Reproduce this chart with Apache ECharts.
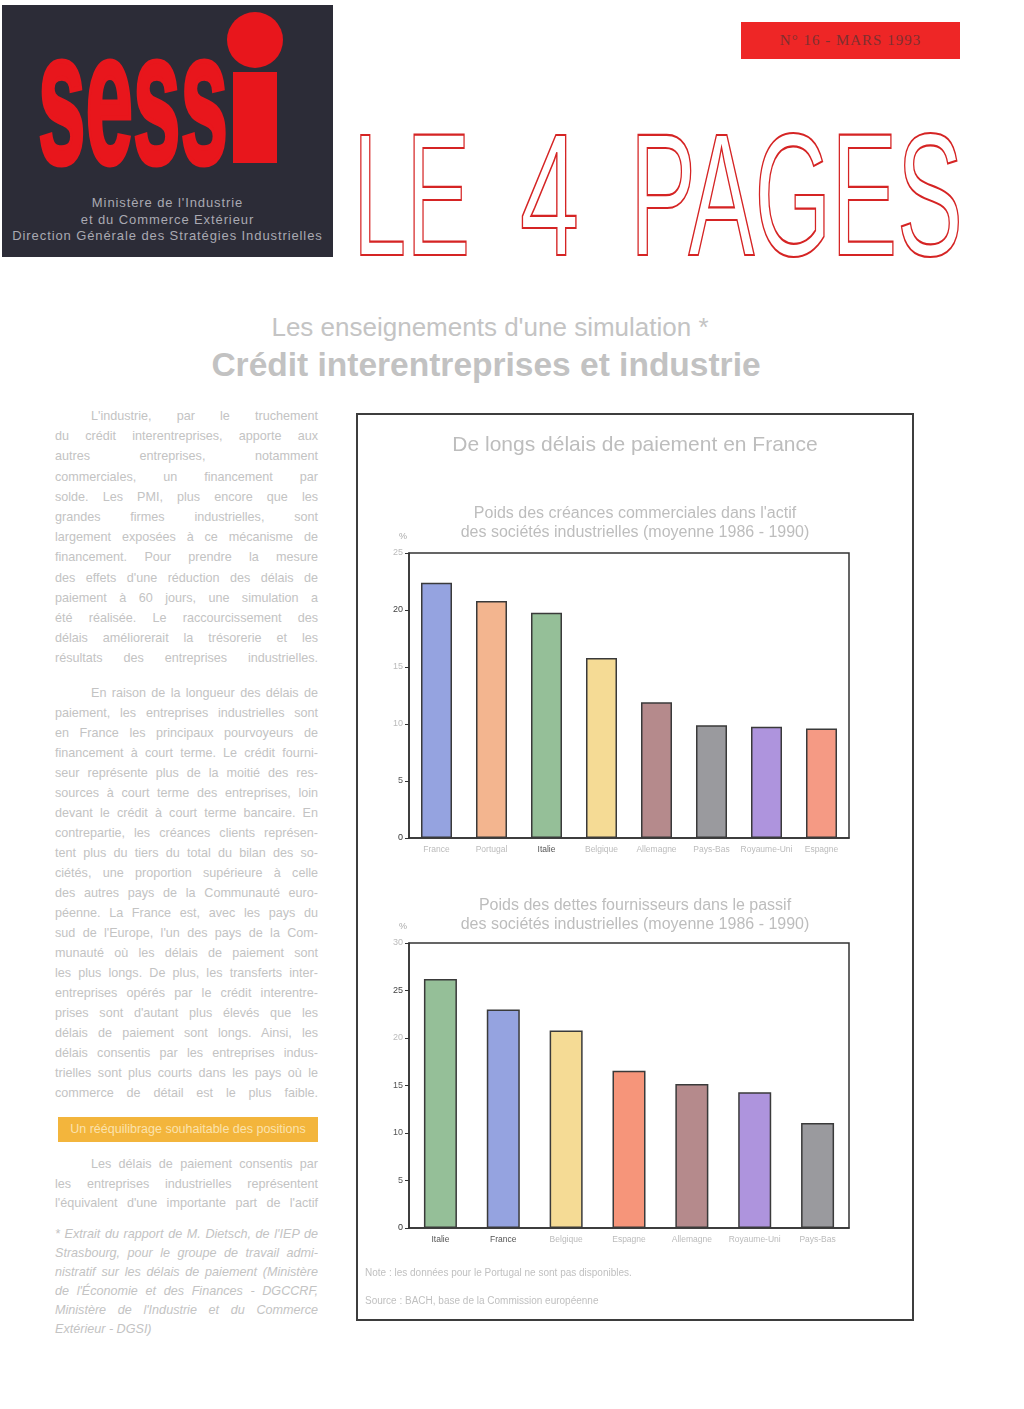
<!DOCTYPE html>
<html lang="fr"><head><meta charset="utf-8">
<script src="https://cdn.jsdelivr.net/npm/echarts@6/dist/echarts.min.js"></script>
<style>
html,body{margin:0;padding:0;background:#fff;width:1024px;height:1409px;overflow:hidden;font-family:"Liberation Sans",Arial,sans-serif;}
.abs{position:absolute;}
#head{left:0;top:0;width:1024px;height:270px;}
#logosub{left:2px;top:195px;width:331px;text-align:center;color:#a9a9b2;font-size:13px;letter-spacing:0.9px;line-height:16.5px;white-space:nowrap;}
#num{left:741px;top:22px;width:219px;height:37px;background:#ee2626;color:#7d3030;font-size:15px;letter-spacing:1px;line-height:37px;text-align:center;font-family:"Liberation Serif",serif;}
#h1{left:0;width:980px;top:312px;text-align:center;color:#c4c4c4;font-size:26px;}
#h2{left:0;width:972px;top:346px;text-align:center;color:#c2c2c2;font-size:33.5px;font-weight:bold;}
.col{left:55px;width:263px;color:#c3c3c3;font-size:12.6px;line-height:20.2px;}
.col div{text-align:justify;text-align-last:justify;white-space:nowrap;}
.col div.ind{padding-left:36px;}
.col div.end{text-align-last:left;}
#bar{left:58px;top:1117px;width:260px;height:25px;background:#f3b53c;color:#fbe3ae;font-size:12.5px;line-height:25px;text-align:center;}
#frame{left:356px;top:413px;width:558px;height:908px;box-sizing:border-box;border:2px solid #3d3d3d;pointer-events:none;}
#chart{left:356px;top:413px;width:558px;height:908px;}
</style></head>
<body>
<svg id="head" class="abs" width="1024" height="270" xmlns="http://www.w3.org/2000/svg">
  <rect x="2" y="5" width="331" height="252" fill="#2c2c37"/>
  <text x="38" y="163" font-family="Liberation Sans, Arial" font-weight="bold" font-size="189" textLength="190" lengthAdjust="spacingAndGlyphs" fill="#e8161c" stroke="#e8161c" stroke-width="5">sess</text>
  <rect x="233" y="72" width="44" height="91" fill="#e8161c"/>
  <circle cx="255" cy="40" r="28" fill="#e8161c"/>
  <g font-family="Liberation Sans, Arial" font-size="175" fill="#ffffff" stroke="#d52424" stroke-width="2.2">
    <text x="353" y="255" textLength="117" lengthAdjust="spacingAndGlyphs">LE</text>
    <text x="520" y="255" textLength="59" lengthAdjust="spacingAndGlyphs">4</text>
    <text x="630" y="255" textLength="333" lengthAdjust="spacingAndGlyphs">PAGES</text>
  </g>
</svg>
<div id="logosub" class="abs">Ministère de l'Industrie<br>et du Commerce Extérieur<br>Direction Générale des Stratégies Industrielles</div>
<div id="num" class="abs">N° 16 - MARS 1993</div>
<div id="h1" class="abs">Les enseignements d'une simulation *</div>
<div id="h2" class="abs">Crédit interentreprises et industrie</div>

<div class="abs col" style="top:406px;">
<div class="ind">L'industrie, par le truchement</div>
<div>du crédit interentreprises, apporte aux</div>
<div>autres entreprises, notamment</div>
<div>commerciales, un financement par</div>
<div>solde. Les PMI, plus encore que les</div>
<div>grandes firmes industrielles, sont</div>
<div>largement exposées à ce mécanisme de</div>
<div>financement. Pour prendre la mesure</div>
<div>des effets d'une réduction des délais de</div>
<div>paiement à 60 jours, une simulation a</div>
<div>été réalisée. Le raccourcissement des</div>
<div>délais améliorerait la trésorerie et les</div>
<div>résultats des entreprises industrielles.</div>
</div>

<div class="abs col" style="top:683px;line-height:20px;">
<div class="ind">En raison de la longueur des délais de</div>
<div>paiement, les entreprises industrielles sont</div>
<div>en France les principaux pourvoyeurs de</div>
<div>financement à court terme. Le crédit fourni-</div>
<div>seur représente plus de la moitié des res-</div>
<div>sources à court terme des entreprises, loin</div>
<div>devant le crédit à court terme bancaire. En</div>
<div>contrepartie, les créances clients représen-</div>
<div>tent plus du tiers du total du bilan des so-</div>
<div>ciétés, une proportion supérieure à celle</div>
<div>des autres pays de la Communauté euro-</div>
<div>péenne. La France est, avec les pays du</div>
<div>sud de l'Europe, l'un des pays de la Com-</div>
<div>munauté où les délais de paiement sont</div>
<div>les plus longs. De plus, les transferts inter-</div>
<div>entreprises opérés par le crédit interentre-</div>
<div>prises sont d'autant plus élevés que les</div>
<div>délais de paiement sont longs. Ainsi, les</div>
<div>délais consentis par les entreprises indus-</div>
<div>trielles sont plus courts dans les pays où le</div>
<div>commerce de détail est le plus faible.</div>
</div>

<div id="bar" class="abs">Un rééquilibrage souhaitable des positions</div>

<div class="abs col" style="top:1155px;line-height:19.6px;">
<div class="ind">Les délais de paiement consentis par</div>
<div>les entreprises industrielles représentent</div>
<div>l'équivalent d'une importante part de l'actif</div>
</div>

<div class="abs col" style="top:1225px;font-style:italic;line-height:19px;">
<div>* Extrait du rapport de M. Dietsch, de l'IEP de</div>
<div>Strasbourg, pour le groupe de travail admi-</div>
<div>nistratif sur les délais de paiement (Ministère</div>
<div>de l'Économie et des Finances - DGCCRF,</div>
<div>Ministère de l'Industrie et du Commerce</div>
<div class="end">Extérieur - DGSI)</div>
</div>

<div id="chart" class="abs"></div>
<div id="frame" class="abs"></div>

<script>
// ---- data ----
const cats1 = ['France','Portugal','Italie','Belgique','Allemagne','Pays-Bas','Royaume-Uni','Espagne'];
const vals1 = [22.4, 20.8, 19.75, 15.8, 11.9, 9.9, 9.75, 9.6];
const colors1 = ['#95a3e0','#f3b58f','#95bf98','#f5db95','#b58a8c','#9a9a9e','#ae94dd','#f59a84'];
const labelCol1 = ['#bbbbbb','#bbbbbb','#555555','#bbbbbb','#bbbbbb','#bbbbbb','#bbbbbb','#bbbbbb'];

const cats2 = ['Italie','France','Belgique','Espagne','Allemagne','Royaume-Uni','Pays-Bas'];
const vals2 = [26.2, 23.0, 20.8, 16.55, 15.15, 14.3, 11.05];
const colors2 = ['#95bf98','#95a3e0','#f5db95','#f6957a','#b58a8c','#ae94dd','#9a9a9e'];
const labelCol2 = ['#555555','#555555','#bbbbbb','#bbbbbb','#bbbbbb','#bbbbbb','#bbbbbb'];

const yTicks1 = [0,5,10,15,20,25];
const yTicks2 = [0,5,10,15,20,25,30];
const yTickCol1 = {0:'#333',5:'#555',10:'#bbb',15:'#bbb',20:'#444',25:'#bbb'};
const yTickCol2 = {0:'#333',5:'#555',10:'#555',15:'#555',20:'#bbb',25:'#444',30:'#bbb'};

const mainTitle = 'De longs délais de paiement en France';
const sub1 = 'Poids des créances commerciales dans l\'actif\ndes sociétés industrielles (moyenne 1986 - 1990)';
const sub2 = 'Poids des dettes fournisseurs dans le passif\ndes sociétés industrielles (moyenne 1986 - 1990)';
const note = 'Note : les données pour le Portugal ne sont pas disponibles.';
const source = 'Source : BACH, base de la Commission européenne';

const chart = echarts.init(document.getElementById('chart'));
const fontFam = '"Liberation Sans", Arial, sans-serif';
function yAxis(ticks, colMap, grid){
  return {type:'value', gridIndex:grid, min:0, max:ticks[ticks.length-1], interval:5,
    name:'%', nameLocation:'end', nameGap:12, nameTextStyle:{color:'#aaa', fontSize:9, align:'right', padding:[0,2,0,0]},
    axisLine:{show:true, lineStyle:{color:'#333', width:1.5}},
    axisTick:{show:true, length:4, lineStyle:{color:'#333'}},
    axisLabel:{fontSize:9, color:(v)=>colMap[v]||'#555', margin:6, fontFamily:fontFam},
    splitLine:{show:false}};
}
function xAxis(cats, cols, grid){
  return {type:'category', gridIndex:grid, data:cats,
    axisLine:{show:true, lineStyle:{color:'#333', width:1.5}},
    axisTick:{show:false},
    axisLabel:{fontSize:8.5, margin:7, interval:0, fontFamily:fontFam, color:(v,i)=>cols[i]}};
}
chart.setOption({
  animation:false,
  title:[
    {text:mainTitle, left:'center', top:17, textStyle:{color:'#bdbdbd', fontSize:21, fontWeight:'normal', fontFamily:fontFam}},
    {text:sub1, left:'center', top:86, textStyle:{color:'#bdbdbd', fontSize:16, fontWeight:'normal', lineHeight:19, fontFamily:fontFam}},
    {text:sub2, left:'center', top:478, textStyle:{color:'#bdbdbd', fontSize:16, fontWeight:'normal', lineHeight:19, fontFamily:fontFam}}
  ],
  grid:[
    {left:53, top:140, width:440, height:285, show:true, borderColor:'#333', borderWidth:1.5},
    {left:53, top:530, width:440, height:285, show:true, borderColor:'#333', borderWidth:1.5}
  ],
  xAxis:[xAxis(cats1, labelCol1, 0), xAxis(cats2, labelCol2, 1)],
  yAxis:[yAxis(yTicks1, yTickCol1, 0), yAxis(yTicks2, yTickCol2, 1)],
  series:[
    {type:'bar', xAxisIndex:0, yAxisIndex:0, barWidth:31,
     data:vals1.map((v,i)=>({value:v, itemStyle:{color:colors1[i]}})),
     itemStyle:{borderColor:'#3a3a3a', borderWidth:1.5}},
    {type:'bar', xAxisIndex:1, yAxisIndex:1, barWidth:33,
     data:vals2.map((v,i)=>({value:v, itemStyle:{color:colors2[i]}})),
     itemStyle:{borderColor:'#3a3a3a', borderWidth:1.5}}
  ],
  graphic:[
    {type:'text', left:9, top:855, style:{text:note, fill:'#c0c0c0', fontSize:10, fontFamily:fontFam}},
    {type:'text', left:9, top:883, style:{text:source, fill:'#c0c0c0', fontSize:10, fontFamily:fontFam}}
  ]
});
</script>
</body></html>
